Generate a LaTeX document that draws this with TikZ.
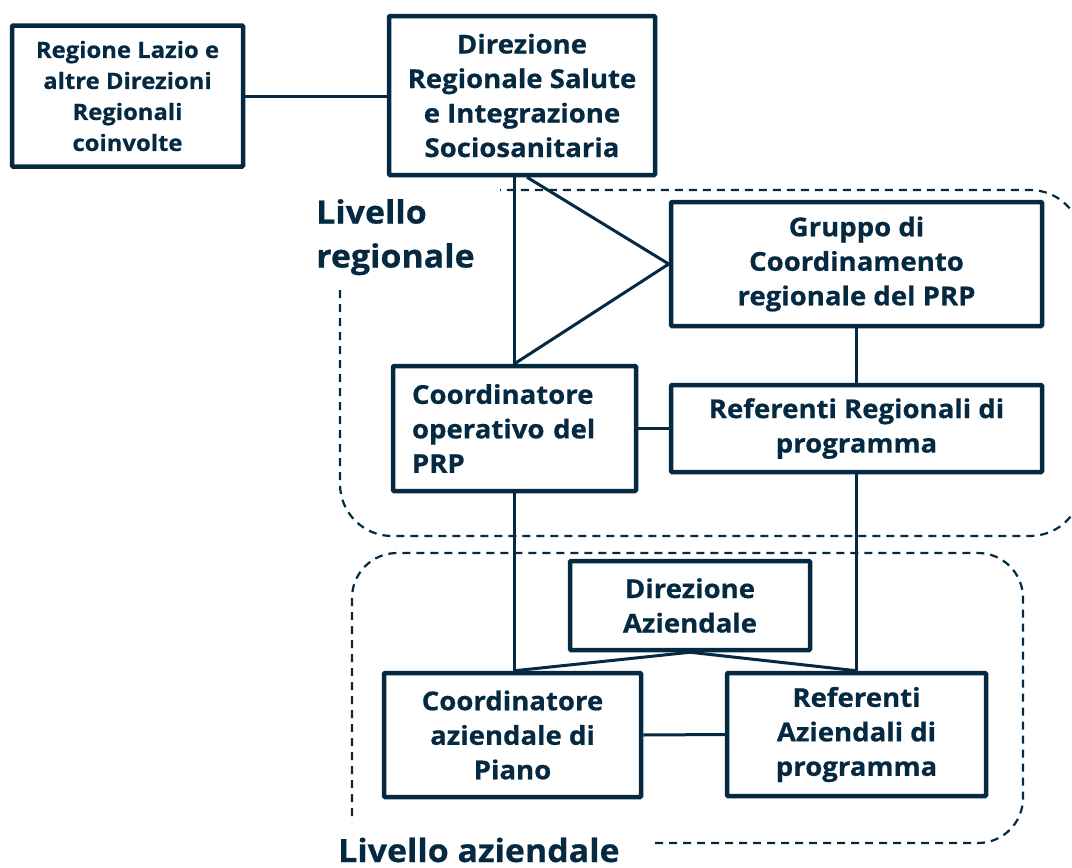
\documentclass[tikz,border=0pt]{standalone}
\usepackage{fontspec}
\setmainfont{Open Sans}[FakeStretch=1.06, BoldFeatures={FakeBold=0.6}]
\usetikzlibrary{calc}
\definecolor{navy}{RGB}{6,41,66}
\begin{document}
\begin{tikzpicture}[x=1pt,y=-1pt,
  box/.style={draw=navy, line width=4.5pt, rounded corners=1pt, inner sep=0pt, align=center,
    font=\fontsize{26}{34.5}\selectfont\bfseries, text=navy},
  conn/.style={draw=navy, line width=3pt},
  dashbox/.style={draw=navy, line width=2.2pt, dash pattern=on 8pt off 6pt},
  lbl/.style={inner sep=0pt, align=left, text=navy, font=\fontsize{32}{44}\selectfont\bfseries}]
\useasboundingbox (0,0) rectangle (1072,868);
\clip (0,0) rectangle (1072,868);

% dashed level frames
\draw[dashbox, rounded corners=52pt] (340,290) -- (340,536) -- (1082,536) -- (1082,190) -- (500,190);
\draw[dashbox, rounded corners=45pt] (655,843) -- (1023,843) -- (1023,553) -- (352,553) -- (352,822);

% boxes
\node[box, minimum width=231pt, minimum height=141pt, font=\fontsize{22.5}{31}\selectfont\bfseries] (A) at (127.5,96) {Regione Lazio e\\altre Direzioni\\Regionali\\coinvolte};
\node[box, minimum width=266pt, minimum height=159pt] (B) at (522,95.5) {Direzione\\Regionale Salute\\e Integrazione\\Sociosanitaria};
\node[box, minimum width=371pt, minimum height=124pt] (C) at (856.5,264) {Gruppo di\\Coordinamento\\regionale del PRP};
\node[box, minimum width=243pt, minimum height=125pt, align=left, text width=205pt, inner xsep=19pt] (D) at (514.5,428.5) {Coordinatore\\operativo del\\PRP};
\node[box, minimum width=371pt, minimum height=87pt] (E) at (856.5,428.5) {Referenti Regionali di\\programma};
\node[box, minimum width=240pt, minimum height=89pt] (F) at (690,605.5) {Direzione\\Aziendale};
\node[box, minimum width=257pt, minimum height=124pt] (G) at (512.5,735) {Coordinatore\\aziendale di\\Piano};
\node[box, minimum width=259pt, minimum height=123pt] (H) at (856.5,734.5) {Referenti\\Aziendali di\\programma};

% labels
\node[lbl, anchor=north west] (LR) at (316,199) {Livello\\regionale};
\node[lbl, anchor=base west] (LA) at (338,862) {Livello aziendale};

% connectors
\draw[conn] (A.east) -- (A.east -| B.west);
\draw[conn] (D.north) -- (D.north |- B.south);
\coordinate (Bd) at ($(B.south)+(5,0)$);
\draw[conn] (Bd) -- (C.west) -- (D.north);
\draw[conn] (C.south) -- (E.north);
\draw[conn] (D.east) -- (E.west);
\coordinate (Gt) at (D.south |- G.north);
\coordinate (Ht) at (E.south |- H.north);
\draw[conn] (D.south) -- (Gt);
\draw[conn] (E.south) -- (Ht);
\draw[conn] (Gt) -- (F.south) -- (Ht);
\draw[conn] (G.east) -- (H.west);
\end{tikzpicture}
\end{document}
